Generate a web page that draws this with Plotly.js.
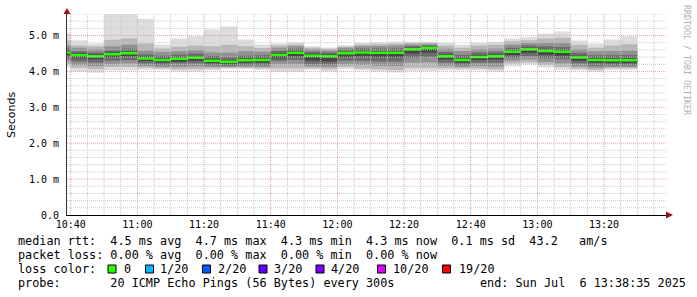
<!DOCTYPE html>
<html><head><meta charset="utf-8">
<script src="https://cdn.plot.ly/plotly-3.0.1.min.js"></script>
<style>html,body{margin:0;padding:0;background:#fff;}</style>
</head><body><div id="chart" style="width:697px;height:297px"></div>
<script>
// ---- data (5-minute steps, first segment starts 10:35) ----
const segStart = [2025, 6, 6, 10, 35]; // Y, M(0-based), D, h, m
const stepMin = 5;
const median = [4.53,4.45,4.42,4.48,4.51,4.36,4.32,4.35,4.38,4.30,4.27,4.31,4.32,4.46,4.52,4.44,4.42,4.51,4.53,4.52,4.52,4.62,4.65,4.42,4.32,4.40,4.42,4.55,4.62,4.57,4.55,4.39,4.32,4.31,4.31];
const pingMin = [4.11,4.00,3.96,4.03,4.03,4.05,4.05,4.00,4.00,4.03,4.07,4.07,4.05,3.99,3.99,4.05,4.00,4.07,4.03,4.00,3.97,4.02,4.02,4.03,4.03,4.03,4.00,4.14,4.19,4.11,4.05,4.03,3.99,4.05,4.05];
const pingMax = [5.07,4.87,4.78,5.70,5.70,5.47,4.74,4.92,4.98,5.17,5.25,4.89,4.75,4.78,4.81,4.70,4.67,4.73,4.80,4.81,4.83,4.83,4.83,4.80,4.74,4.80,4.83,4.92,4.95,5.06,5.11,4.86,4.77,4.89,4.98];
const p3  = [4.20,4.10,4.06,4.12,4.12,4.10,4.08,4.06,4.07,4.08,4.10,4.10,4.08,4.08,4.08,4.09,4.06,4.12,4.08,4.06,4.04,4.10,4.10,4.09,4.08,4.08,4.06,4.22,4.25,4.18,4.12,4.08,4.05,4.09,4.09];
const p18 = [4.86,4.72,4.70,4.88,4.92,4.78,4.64,4.69,4.72,4.70,4.74,4.70,4.65,4.72,4.75,4.66,4.63,4.69,4.75,4.76,4.77,4.79,4.80,4.72,4.66,4.72,4.74,4.84,4.87,4.92,4.94,4.74,4.66,4.72,4.76];
const p5  = [4.29,4.18,4.15,4.20,4.22,4.15,4.12,4.12,4.14,4.12,4.12,4.13,4.12,4.20,4.20,4.14,4.12,4.20,4.18,4.16,4.15,4.24,4.25,4.16,4.12,4.15,4.14,4.30,4.33,4.26,4.22,4.14,4.10,4.12,4.12];
const p16 = [4.72,4.66,4.62,4.70,4.74,4.58,4.54,4.56,4.60,4.53,4.52,4.56,4.55,4.66,4.70,4.62,4.59,4.66,4.70,4.71,4.72,4.75,4.76,4.63,4.57,4.62,4.64,4.74,4.79,4.80,4.80,4.62,4.56,4.57,4.58];
const p7  = [4.37,4.28,4.25,4.30,4.32,4.22,4.18,4.22,4.22,4.17,4.16,4.18,4.17,4.30,4.32,4.20,4.19,4.30,4.30,4.28,4.28,4.38,4.40,4.24,4.18,4.24,4.24,4.38,4.42,4.37,4.34,4.22,4.16,4.17,4.17];
const p14 = [4.64,4.56,4.53,4.60,4.63,4.48,4.44,4.47,4.50,4.43,4.40,4.44,4.45,4.58,4.63,4.55,4.53,4.61,4.64,4.64,4.64,4.70,4.72,4.54,4.46,4.53,4.55,4.66,4.72,4.70,4.68,4.52,4.45,4.45,4.46];
const p9  = [4.46,4.37,4.34,4.40,4.42,4.29,4.25,4.27,4.30,4.23,4.21,4.24,4.24,4.36,4.42,4.30,4.28,4.40,4.42,4.40,4.40,4.50,4.52,4.33,4.24,4.32,4.33,4.46,4.52,4.46,4.44,4.30,4.24,4.23,4.23];
const p12 = [4.58,4.50,4.47,4.53,4.56,4.41,4.37,4.40,4.43,4.35,4.32,4.36,4.37,4.51,4.57,4.49,4.47,4.55,4.58,4.57,4.57,4.66,4.69,4.47,4.37,4.45,4.47,4.60,4.66,4.62,4.60,4.44,4.37,4.36,4.36];

const yTickVals = [0, 1, 2, 3, 4, 5];
const yTickText = ['0.0', '1.0 m', '2.0 m', '3.0 m', '4.0 m', '5.0 m'];

const legendLines = [
  'median rtt:  4.5 ms avg  4.7 ms max  4.3 ms min  4.3 ms now  0.1 ms sd  43.2   am/s',
  'packet loss: 0.00 % avg  0.00 % max  0.00 % min  0.00 % now',
  'loss color:',
  'probe:       20 ICMP Echo Pings (56 Bytes) every 300s'
];
const endText = 'end: Sun Jul  6 13:38:35 2025';
const lossLabels = ['0', '1/20', '2/20', '3/20', '4/20', '10/20', '19/20'];
const lossColors = ['#26ff00', '#00b8ff', '#0059ff', '#5e00ff', '#7e00ff', '#dd00ff', '#ff0000'];

// ---- build x boundaries ----
function pad(n){return (n<10?'0':'')+n;}
const t0 = Date.UTC(segStart[0], segStart[1], segStart[2], segStart[3], segStart[4]);
const xs = [];
for (let i = 0; i <= median.length; i++) {
  const d = new Date(t0 + i * stepMin * 60000);
  xs.push(d.getUTCFullYear()+'-'+pad(d.getUTCMonth()+1)+'-'+pad(d.getUTCDate())+' '+pad(d.getUTCHours())+':'+pad(d.getUTCMinutes())+':00');
}
const ext = a => a.concat([a[a.length-1]]);

const traces = [];
function band(lo, hi, color) {
  traces.push({x: xs, y: ext(lo), type: 'scatter', mode: 'lines', line: {width: 0, shape: 'hv'}, hoverinfo: 'skip', showlegend: false});
  traces.push({x: xs, y: ext(hi), type: 'scatter', mode: 'lines', line: {width: 0, shape: 'hv'}, fill: 'tonexty', fillcolor: color, hoverinfo: 'skip', showlegend: false});
}
band(pingMin, pingMax, '#dddddd');
band(p3, p18, '#b7b7b7');
band(p5, p16, '#919191');
band(p7, p14, '#6b6b6b');
band(p9, p12, '#454545');
const halfW = 0.035;
band(median.map(v => v - halfW), median.map(v => v + halfW), '#26ff00');

// ---- geometry helpers (pixel -> paper) ----
const L = 67, T = 14, W = 600, H = 201;
const px = x => (x - L) / W;
const py = y => (T + H - y) / H;

const shapes = [];
const mono = 'DejaVu Sans Mono';
// grid lines (drawn above the smoke like rrdtool)
const xStart = Date.UTC(2025, 6, 6, 10, 38, 53), xEnd = Date.UTC(2025, 6, 6, 13, 38, 53);
function fmtMs(ms){const d=new Date(ms);return d.getUTCFullYear()+'-'+pad(d.getUTCMonth()+1)+'-'+pad(d.getUTCDate())+' '+pad(d.getUTCHours())+':'+pad(d.getUTCMinutes())+':'+pad(d.getUTCSeconds());}
for (let ms = Date.UTC(2025,6,6,10,40); ms < xEnd; ms += 5*60000) {
  const major = ((ms - Date.UTC(2025,6,6,10,40)) % (20*60000)) === 0;
  shapes.push({type:'line', xref:'x', yref:'paper', x0: fmtMs(ms), x1: fmtMs(ms), y0: 0, y1: 1, layer:'above',
    line:{color: major ? '#e8a0a0' : '#c8c8c8', width:1, dash:'1px,1px'}});
}
for (let k = 1; k <= 28; k++) {
  const v = k * 0.2;
  const major = (k % 5) === 0;
  shapes.push({type:'line', xref:'paper', yref:'y', x0: 0, x1: 1, y0: v, y1: v, layer:'above',
    line:{color: major ? '#e8a0a0' : '#c8c8c8', width:1, dash:'1px,1px'}});
}
// axis arrows
shapes.push({type:'path', xref:'paper', yref:'paper', layer:'above',
  path: 'M '+px(673)+','+py(215)+' L '+px(666)+','+py(211.5)+' L '+px(666)+','+py(218.5)+' Z',
  fillcolor:'#9a1010', line:{width:0}});
shapes.push({type:'path', xref:'paper', yref:'paper', layer:'above',
  path: 'M '+px(67)+','+py(8)+' L '+px(63.5)+','+py(14)+' L '+px(70.5)+','+py(14)+' Z',
  fillcolor:'#9a1010', line:{width:0}});

const annotations = [];
annotations.push({xref:'paper', yref:'paper', x: px(11), y: py(115), text:'Seconds', textangle:-90, showarrow:false,
  font:{family:'DejaVu Sans', size:11, color:'#000'}, xanchor:'center', yanchor:'middle'});
annotations.push({xref:'paper', yref:'paper', x: px(687), y: py(60), text:'RRDTOOL / TOBI OETIKER', textangle:90, showarrow:false,
  font:{family:mono, size:8.3, color:'#b0b0b0'}, xanchor:'center', yanchor:'middle'});
const lineY = [241, 255, 269, 283];
const nb = s => s.replace(/ /g, '\u00a0');
legendLines.forEach((s, i) => {
  annotations.push({xref:'paper', yref:'paper', x: px(16), y: py(lineY[i]), text: nb(s), showarrow:false,
    font:{family:mono, size:11.8, color:'#000'}, xanchor:'left', yanchor:'middle'});
});
annotations.push({xref:'paper', yref:'paper', x: px(478), y: py(lineY[3]), text: nb(endText), showarrow:false,
  font:{family:mono, size:11.8, color:'#000'}, xanchor:'left', yanchor:'middle'});
const boxX = [108, 145.5, 202.5, 259, 316, 377.5, 442.5];
const labX = [122, 158, 216, 272, 329, 391, 456.5];
lossLabels.forEach((lab, i) => {
  shapes.push({type:'rect', xref:'paper', yref:'paper', x0: px(boxX[i]), x1: px(boxX[i]+8), y0: py(lineY[2]+4), y1: py(lineY[2]-4),
    fillcolor: lossColors[i], line:{color:'#000', width:1}});
  annotations.push({xref:'paper', yref:'paper', x: px(labX[i]), y: py(lineY[2]), text: lab, showarrow:false,
    font:{family:mono, size:11.8, color:'#000'}, xanchor:'left', yanchor:'middle'});
});

const layout = {
  width: 697, height: 297, autosize: false,
  margin: {l: L, r: 697 - L - W, t: T, b: 297 - T - H, pad: 0},
  paper_bgcolor: '#ffffff', plot_bgcolor: '#ffffff',
  showlegend: false,
  xaxis: {type:'date', range:[fmtMs(xStart), fmtMs(xEnd)], tick0:'2025-07-06 10:40:00', dtick: 20*60000,
    tickformat:'%H:%M', showgrid:false, zeroline:false, showline:true, linecolor:'#000', linewidth:1,
    ticks:'', tickfont:{family:mono, size:10, color:'#000'}, fixedrange:true},
  yaxis: {range:[0, 5.6], tickvals: yTickVals, ticktext: yTickText, showgrid:false, zeroline:false,
    showline:true, linecolor:'#333', linewidth:1, ticks:'', ticklabelstandoff: 5,
    tickfont:{family:mono, size:10, color:'#000'}, fixedrange:true},
  shapes: shapes, annotations: annotations
};
Plotly.newPlot('chart', traces, layout, {staticPlot:true, displayModeBar:false});
</script></body></html>
